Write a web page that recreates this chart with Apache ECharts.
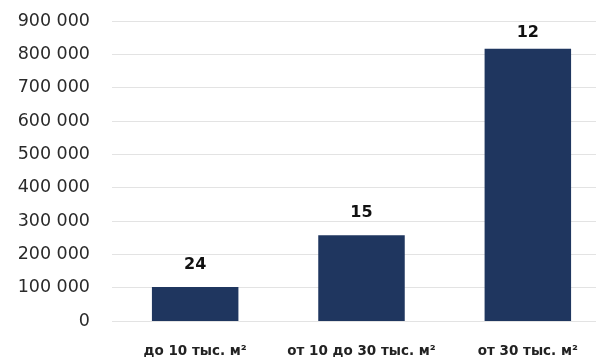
<!DOCTYPE html>
<html><head><meta charset="utf-8">
<script src="https://cdn.jsdelivr.net/npm/echarts@6/dist/echarts.min.js"></script>
<style>html,body{margin:0;padding:0;background:#fff;overflow:hidden}#c{width:611px;height:363px}</style>
</head><body><div id="c"></div>
<script>
const categories = ['до 10 тыс. м²', 'от 10 до 30 тыс. м²', 'от 30 тыс. м²'];
const values = [102000, 257000, 817000];
const counts = ['24', '15', '12'];
const yMax = 900000, yStep = 100000;

const chart = echarts.init(document.getElementById('c'));
chart.setOption({
  animation: false,
  grid: { left: 112, right: 0, top: 21, bottom: 42, containLabel: false },
  xAxis: {
    type: 'category', data: categories,
    axisLine: { show: false }, axisTick: { show: false },
    axisLabel: { interval: 0, margin: 23, color: '#222', fontFamily: 'DejaVu Sans', fontWeight: 'bold', fontSize: 13.5 }
  },
  yAxis: {
    type: 'value', min: 0, max: yMax, interval: yStep,
    axisLine: { show: false }, axisTick: { show: false },
    splitLine: { lineStyle: { color: '#e3e3e3', width: 1 } },
    axisLabel: {
      margin: 22, color: '#2a2a2a', fontFamily: 'DejaVu Sans', fontSize: 17.5,
      formatter: v => String(v).replace(/\B(?=(\d{3})+(?!\d))/g, ' ')
    }
  },
  series: [{
    type: 'bar',
    data: values.map((v, i) => i === 2 ? { value: v, label: { distance: 8 } } : v),
    barCategoryGap: '48%',
    itemStyle: { color: '#1f365f' },
    label: {
      show: true, position: 'top', distance: 14,
      formatter: p => counts[p.dataIndex],
      color: '#111', fontFamily: 'DejaVu Sans', fontWeight: 'bold', fontSize: 16
    }
  }]
});
</script></body></html>
